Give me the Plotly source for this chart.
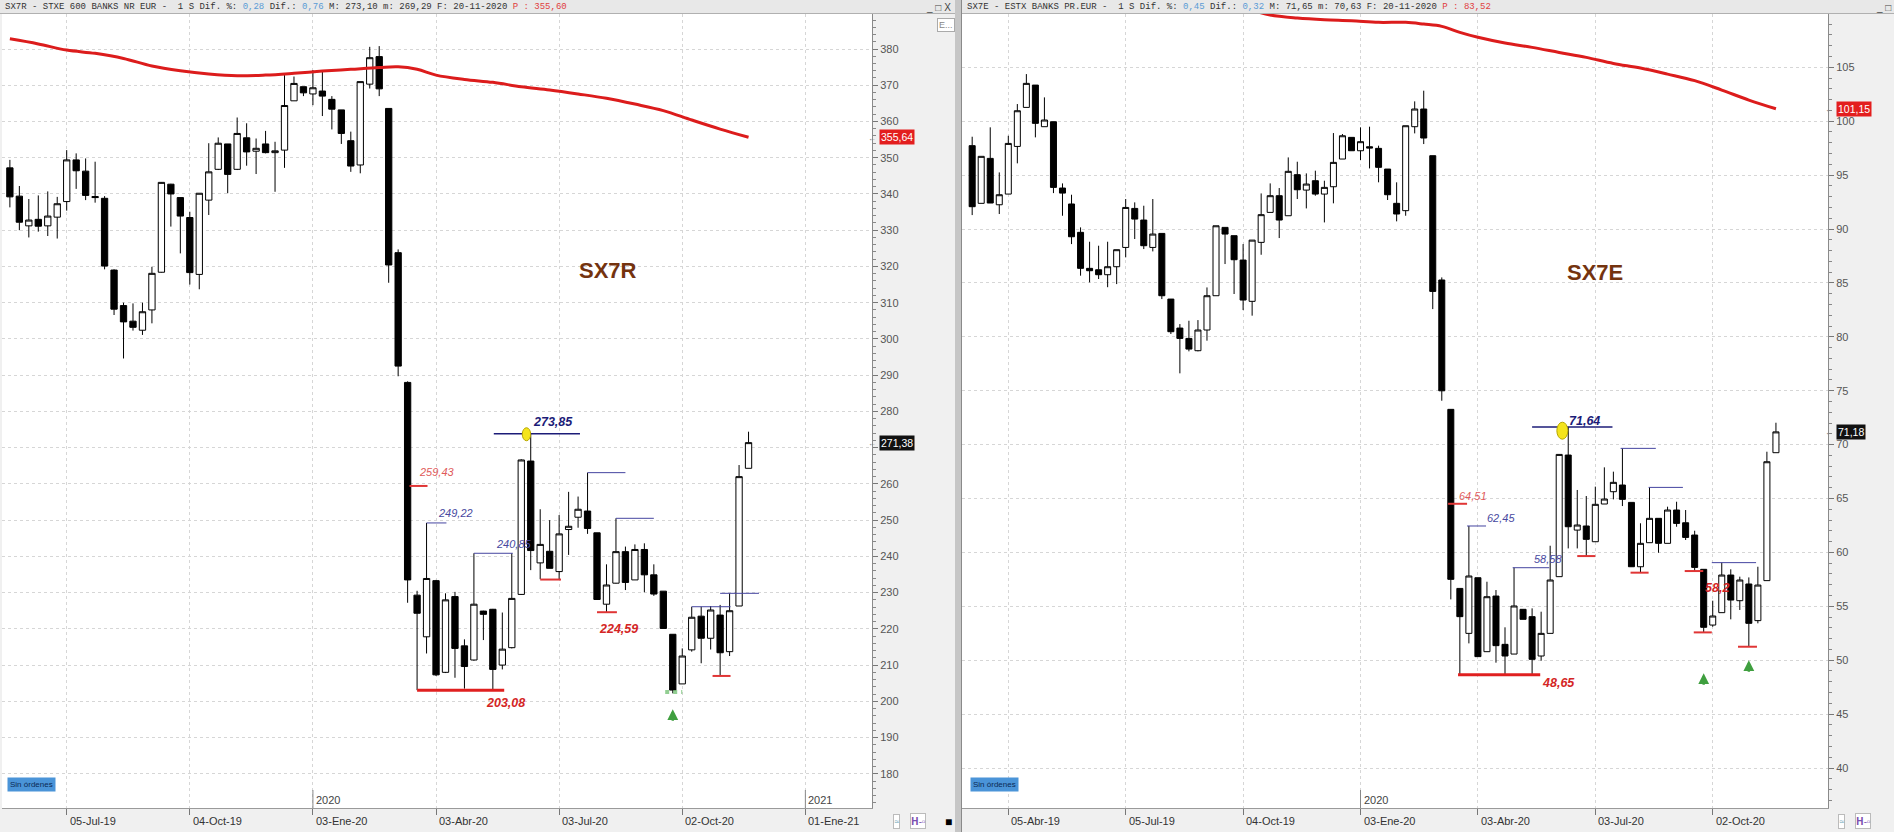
import pandas as pd
import plotly.graph_objects as go

W, H = 1894, 832

# ---------------- SX7R (left panel) weekly candles ----------------
sx7r_dates = pd.date_range("2019-05-24", "2020-11-20", freq="7D")
sx7r_open = [347.2, 339.4, 331.2, 333.0, 331.2, 333.6, 337.9, 349.4, 346.3, 339.3,
             338.8, 319.0, 309.2, 304.9, 302.4, 308.0, 318.4, 342.7, 339.0, 333.5,
             317.8, 338.3, 346.8, 353.8, 346.8, 355.5, 351.8, 353.8, 351.4, 352.1,
             365.7, 369.6, 367.6, 368.4, 366.1, 363.2, 354.7, 348.0, 370.3, 377.9,
             363.6, 323.8, 288.0, 229.3, 217.8, 233.3, 208.0, 228.9, 215.3, 211.4,
             224.9, 225.4, 210.0, 214.8, 229.5, 266.3, 238.2, 241.4, 235.8, 247.4,
             250.8, 252.5, 246.5, 226.8, 232.6, 241.3, 233.5, 241.9, 234.9, 230.4,
             218.5, 204.8, 214.2, 223.5, 217.4, 223.8, 213.7, 226.3, 264.3]
sx7r_high = [349.4, 342.2, 338.6, 339.6, 340.7, 339.2, 352.1, 351.2, 349.8, 348.9,
             339.4, 319.2, 310.0, 309.8, 310.0, 319.9, 343.3, 342.8, 339.0, 335.1,
             340.2, 354.0, 355.6, 353.8, 361.1, 359.5, 355.3, 357.4, 354.4, 372.8,
             372.4, 369.6, 374.2, 373.7, 367.0, 363.2, 357.2, 371.0, 380.6, 380.8,
             363.6, 324.7, 288.3, 230.5, 249.22, 233.5, 229.8, 230.2, 217.1, 240.85,
             225.0, 225.5, 224.5, 240.85, 266.8, 273.85, 253.0, 250.0, 251.4, 257.8,
             256.5, 263.1, 246.5, 237.8, 250.5, 242.7, 243.3, 243.6, 237.8, 230.4,
             218.5, 214.6, 226.1, 226.1, 226.3, 226.6, 229.8, 265.2, 274.4]
sx7r_low = [336.3, 330.0, 328.0, 329.6, 328.4, 327.7, 335.4, 341.4, 338.3, 337.6,
            319.2, 306.6, 294.6, 302.3, 301.1, 304.3, 318.3, 331.0, 323.6, 315.0,
            313.7, 334.2, 346.6, 340.2, 346.6, 347.8, 345.5, 351.2, 340.6, 347.2,
            365.7, 367.0, 364.5, 361.5, 357.8, 353.8, 346.1, 345.7, 369.1, 367.0,
            315.5, 289.7, 227.2, 203.08, 213.2, 207.0, 207.8, 206.5, 203.5, 211.2,
            216.9, 203.08, 208.8, 214.6, 229.4, 236.2, 233.7, 236.7, 233.6, 240.4,
            247.9, 246.2, 228.1, 224.59, 232.5, 230.7, 233.5, 230.1, 229.1, 220.1,
            202.2, 204.8, 213.7, 210.5, 214.3, 207.0, 212.5, 226.3, 264.3]
sx7r_close = [339.2, 332.2, 332.8, 331.1, 333.9, 337.3, 349.4, 346.4, 339.6, 339.0,
              320.1, 308.2, 304.7, 303.2, 307.5, 318.1, 343.2, 340.0, 333.9, 318.3,
              340.2, 346.1, 354.0, 345.4, 356.7, 351.6, 352.6, 351.4, 351.9, 364.4,
              370.5, 367.9, 369.3, 367.0, 363.4, 356.7, 347.7, 371.0, 377.6, 369.0,
              320.4, 292.5, 233.5, 224.3, 233.9, 207.3, 228.0, 214.6, 209.6, 226.8,
              224.0, 208.8, 214.4, 228.4, 266.6, 241.6, 243.3, 236.7, 246.2, 248.3,
              253.0, 247.7, 228.1, 232.1, 241.3, 232.8, 241.9, 234.9, 229.6, 220.1,
              203.1, 212.5, 223.2, 217.4, 225.2, 213.4, 225.0, 262.0, 271.38]
# moving average (red) read at selected weeks (index into sx7r_dates)
sx7r_ma_idx = [0, 3, 6, 9, 12, 15, 18, 21, 24, 27, 30, 33, 36, 39, 41, 43, 45, 48,
               51, 54, 57, 60, 63, 66, 69, 72, 75, 78]
sx7r_ma_val = [382.8, 381.4, 379.7, 378.8, 377.4, 375.3, 374.0, 373.1, 372.6, 372.8,
               373.3, 373.9, 374.4, 374.9, 375.1, 374.4, 372.8, 371.6, 370.8, 369.6,
               368.7, 367.6, 366.4, 364.8, 363.0, 360.4, 357.9, 355.64]

# ---------------- SX7E (right panel) weekly candles ----------------
sx7e_dates = pd.date_range("2019-03-08", "2020-11-20", freq="7D")
sx7e_open = [97.73, 92.38, 96.55, 92.25, 93.24, 97.66, 101.28, 103.35, 99.49, 99.95,
             93.8, 92.32, 89.69, 86.35, 86.22, 85.76, 86.5, 88.29, 91.91, 90.83,
             88.29, 89.59, 83.5, 80.81, 79.85, 78.71, 80.63, 83.81, 90.15, 89.38,
             87.12, 83.29, 88.76, 91.54, 93.09, 91.23, 95.04, 93.61, 94.48, 93.24,
             93.92, 96.49, 98.5, 97.26, 97.63, 97.48, 95.56, 92.38, 91.7, 99.49,
             101.13, 96.8, 85.27, 73.27, 56.66, 52.49, 57.65, 50.79, 55.95, 51.47,
             50.57, 54.72, 54.04, 50.39, 52.49, 57.75, 69.03, 62.07, 62.45, 60.99,
             64.49, 65.63, 66.25, 64.64, 58.67, 60.9, 63.16, 60.84, 63.93, 62.75,
             61.61, 58.43, 53.26, 54.41, 57.9, 55.52, 57.07, 53.67, 57.38, 69.25]
sx7e_high = [98.56, 96.74, 99.43, 95.25, 98.65, 101.59, 104.37, 103.35, 102.21, 99.95,
             94.23, 93.18, 90.15, 88.82, 88.45, 88.82, 88.08, 92.78, 92.47, 92.16,
             92.78, 89.59, 83.5, 81.18, 81.49, 81.55, 84.58, 90.3, 90.15, 89.38,
             88.6, 88.97, 93.3, 94.23, 93.8, 96.64, 96.24, 95.16, 95.41, 94.48,
             98.9, 98.81, 98.5, 99.43, 99.49, 97.73, 95.56, 94.33, 99.58, 101.84,
             102.83, 96.8, 85.51, 73.27, 56.66, 62.45, 57.65, 57.28, 56.51, 53.05,
             58.58, 54.72, 54.81, 54.5, 60.62, 69.09, 71.64, 65.79, 65.23, 66.1,
             67.89, 67.49, 69.65, 64.64, 62.7, 66.03, 63.16, 64.24, 64.7, 63.93,
             62.01, 58.43, 55.52, 59.05, 58.43, 57.75, 57.68, 58.67, 69.34, 72.03]
sx7e_low = [91.29, 92.38, 92.41, 91.39, 93.24, 96.09, 101.28, 98.5, 99.49, 93.33,
            91.23, 88.6, 85.67, 85.05, 85.36, 84.6, 84.89, 87.37, 89.07, 88.14,
            87.92, 83.5, 80.26, 76.61, 78.65, 78.65, 79.64, 83.81, 86.75, 83.97,
            82.48, 81.96, 87.61, 91.54, 89.16, 91.23, 92.78, 91.91, 93.09, 90.61,
            92.38, 96.49, 97.26, 96.4, 95.62, 94.33, 92.69, 90.71, 91.23, 98.87,
            97.88, 82.57, 74.07, 55.64, 48.65, 51.56, 50.33, 50.79, 49.77, 48.7,
            50.57, 53.79, 48.65, 49.95, 52.49, 57.75, 60.37, 60.37, 59.66, 60.99,
            64.49, 64.92, 64.3, 58.67, 58.12, 60.9, 59.97, 60.84, 62.38, 61.15,
            58.27, 52.58, 53.1, 54.41, 53.79, 54.66, 51.25, 53.42, 57.38, 69.25]
sx7e_close = [92.07, 96.74, 92.41, 93.18, 97.94, 100.97, 103.51, 99.8, 100.11, 93.86,
              93.33, 89.28, 86.35, 86.13, 85.76, 86.5, 88.08, 92.0, 90.92, 88.45,
              89.53, 83.81, 80.47, 79.85, 78.86, 80.63, 83.81, 90.3, 89.53, 87.15,
              83.41, 88.97, 91.33, 93.09, 90.83, 95.35, 93.64, 94.17, 93.24, 93.86,
              96.18, 98.65, 97.26, 98.1, 97.51, 95.72, 93.18, 91.39, 99.58, 101.13,
              98.44, 84.21, 74.99, 57.5, 54.04, 57.81, 50.33, 55.89, 51.35, 50.39,
              55.03, 53.79, 50.08, 52.49, 57.44, 69.09, 62.38, 62.54, 61.21, 64.46,
              64.95, 66.5, 64.92, 58.67, 60.84, 63.16, 60.84, 63.93, 62.69, 61.39,
              58.61, 53.05, 54.1, 57.9, 55.58, 57.44, 53.42, 56.97, 68.41, 71.18]
sx7e_ma_idx = [31, 33, 36, 39, 42, 45, 48, 50, 52, 54, 56, 59, 62, 65, 68, 71, 74,
               77, 80, 83, 86, 89]
sx7e_ma_val = [110.3, 109.85, 109.57, 109.41, 109.32, 109.17, 109.17, 109.01, 108.8,
               108.24, 107.78, 107.25, 106.85, 106.38, 105.92, 105.36, 104.93, 104.37,
               103.76, 102.89, 101.96, 101.15]

# axis tick dates / labels
sx7r_tickvals = ["2019-07-05", "2019-10-04", "2020-01-03", "2020-04-03", "2020-07-03",
                 "2020-10-02", "2021-01-01"]
sx7r_ticktext = ["05-Jul-19", "04-Oct-19", "03-Ene-20", "03-Abr-20", "03-Jul-20",
                 "02-Oct-20", "01-Ene-21"]
sx7e_tickvals = ["2019-04-05", "2019-07-05", "2019-10-04", "2020-01-03", "2020-04-03",
                 "2020-07-03", "2020-10-02"]
sx7e_ticktext = ["05-Abr-19", "05-Jul-19", "04-Oct-19", "03-Ene-20", "03-Abr-20",
                 "03-Jul-20", "02-Oct-20"]
# price axis ticks (the 270 label is hidden behind the last-price tag in the reference)
sx7r_yticks = list(range(180, 391, 10))
sx7r_ylabels = ["" if v == 270 else str(v) for v in sx7r_yticks]
sx7e_yticks = list(range(40, 111, 5))
sx7e_ylabels = [str(v) for v in sx7e_yticks]

# drawn level lines: (start week idx, end week idx, level, kind)
sx7r_levels = [(42.2, 44.1, 259.43, "r"), (44.0, 46.1, 249.22, "b"), (49.0, 53.1, 240.85, "b"),
               (43.0, 52.2, 203.08, "R"), (51.1, 60.2, 273.85, "B"), (56.0, 58.2, 233.6, "r"),
               (61.0, 65.0, 263.1, "b"), (62.0, 64.1, 224.59, "r"), (64.0, 68.0, 250.5, "b"),
               (74.2, 76.1, 207.0, "r"), (72.0, 76.1, 226.1, "b"), (75.0, 79.1, 229.8, "b"),
               (69.2, 71.0, 202.6, "g")]
sx7e_levels = [(52.7, 54.8, 64.51, "r"), (54.8, 56.9, 62.45, "b"), (59.85, 63.9, 58.58, "b"),
               (53.8, 62.9, 48.65, "R"), (62.0, 70.9, 71.64, "B"), (67.0, 69.0, 59.66, "r"),
               (71.8, 75.7, 69.65, "b"), (72.9, 74.9, 58.12, "r"), (74.9, 78.7, 66.03, "b"),
               (78.9, 80.95, 58.27, "r"), (79.9, 81.9, 52.58, "r"), (81.9, 86.8, 59.05, "b"),
               (84.8, 86.9, 51.25, "r")]
# labels: (week idx for left edge, y value, text, style)
sx7r_labels = [(43.0, 263.4, "259,43", "rl"), (45.0, 252.0, "249,22", "bl"),
               (51.1, 243.4, "240,85", "bl"), (50.1, 199.5, "203,08", "rb"),
               (55.0, 277.0, "273,85", "bb"), (62.0, 219.9, "224,59", "rb")]
sx7e_labels = [(53.65, 65.26, "64,51", "rl"), (56.75, 63.16, "62,45", "bl"),
               (62.0, 59.39, "58,58", "bl"), (62.9, 47.91, "48,65", "rb"),
               (65.9, 72.19, "71,64", "bb"), (80.9, 56.7, "58,2", "rb")]

# ---------------- pixel layout helpers ----------------
def px(x):
    return x / W

def py(y):
    return 1 - y / H

def wk(dates, k):
    return (dates[0] + pd.Timedelta(days=7 * k)).strftime("%Y-%m-%d %H:%M:%S")

L_X0, L_X1 = 2, 872
R_X0, R_X1 = 962, 1828
P_TOP, P_BOT = 14, 808

left_range = [pd.Timestamp("2019-07-05") + pd.Timedelta(days=(p - 66.7) / 9.47 * 7) for p in (L_X0, L_X1)]
right_range = [pd.Timestamp("2019-04-05") + pd.Timedelta(days=(p - 1008.3) / 9.031 * 7) for p in (R_X0, R_X1)]
left_yr = [380 - (P_BOT - 49) / 3.624, 380 - (P_TOP - 49) / 3.624]
right_yr = [105 - (P_BOT - 67.3) / 10.78, 105 - (P_TOP - 67.3) / 10.78]

fig = go.Figure()

candle_style = dict(
    increasing=dict(line=dict(color="black", width=1), fillcolor="white"),
    decreasing=dict(line=dict(color="black", width=1), fillcolor="black"),
    whiskerwidth=0, showlegend=False, hoverinfo="skip",
)
fig.add_trace(go.Candlestick(x=sx7r_dates, open=sx7r_open, high=sx7r_high, low=sx7r_low,
                             close=sx7r_close, xaxis="x", yaxis="y", **candle_style))
fig.add_trace(go.Candlestick(x=sx7e_dates, open=sx7e_open, high=sx7e_high, low=sx7e_low,
                             close=sx7e_close, xaxis="x2", yaxis="y2", **candle_style))
fig.add_trace(go.Scatter(x=[sx7r_dates[i] for i in sx7r_ma_idx], y=sx7r_ma_val, mode="lines",
                         line=dict(color="#dc1c1c", width=3, shape="spline"),
                         xaxis="x", yaxis="y", showlegend=False, hoverinfo="skip"))
fig.add_trace(go.Scatter(x=[sx7e_dates[i] for i in sx7e_ma_idx], y=sx7e_ma_val, mode="lines",
                         line=dict(color="#dc1c1c", width=3, shape="spline"),
                         xaxis="x2", yaxis="y2", showlegend=False, hoverinfo="skip"))

shapes = []
annotations = []

# separator / header bars
shapes.append(dict(type="rect", xref="paper", yref="paper", x0=px(955), x1=px(962), y0=0, y1=1,
                   fillcolor="#c6c6c6", line=dict(width=0), layer="below"))
shapes.append(dict(type="line", xref="paper", yref="paper", x0=px(961.5), x1=px(961.5), y0=0, y1=1,
                   line=dict(color="#8a8a8a", width=1)))
for (a, b) in [(0, 955), (962, 1894)]:
    shapes.append(dict(type="rect", xref="paper", yref="paper", x0=px(a), x1=px(b), y0=py(13), y1=1,
                       fillcolor="#e8e8e8", line=dict(width=0)))
    shapes.append(dict(type="line", xref="paper", yref="paper", x0=px(a), x1=px(b), y0=py(13.5), y1=py(13.5),
                       line=dict(color="#b0b0b0", width=1)))

hdr_font = dict(family="Liberation Mono, Courier New, monospace", size=9, color="#333")
annotations.append(dict(xref="paper", yref="paper", x=px(3), y=py(7), xanchor="left", yanchor="middle",
                        showarrow=False, font=hdr_font,
                        text="SX7R - STXE 600 BANKS NR EUR -  1 S Dif. %: <span style='color:#5b9bd5'>0,28</span> "
                             "Dif.: <span style='color:#5b9bd5'>0,76</span> M: 273,10 m: 269,29 F: 20-11-2020 "
                             "<span style='color:#e04040'>P : 355,60</span>"))
annotations.append(dict(xref="paper", yref="paper", x=px(965), y=py(7), xanchor="left", yanchor="middle",
                        showarrow=False, font=hdr_font,
                        text="SX7E - ESTX BANKS PR.EUR -  1 S Dif. %: <span style='color:#5b9bd5'>0,45</span> "
                             "Dif.: <span style='color:#5b9bd5'>0,32</span> M: 71,65 m: 70,63 F: 20-11-2020 "
                             "<span style='color:#e04040'>P : 83,52</span>"))
annotations.append(dict(xref="paper", yref="paper", x=px(953), y=py(7), xanchor="right", yanchor="middle",
                        showarrow=False, font=dict(family="Liberation Sans", size=10, color="#444"), text="_ □ X"))
annotations.append(dict(xref="paper", yref="paper", x=px(1893), y=py(7), xanchor="right", yanchor="middle",
                        showarrow=False, font=dict(family="Liberation Sans", size=10, color="#444"), text="_ □"))
annotations.append(dict(xref="paper", yref="paper", x=px(937), y=py(25), xanchor="left", yanchor="middle",
                        showarrow=False, font=dict(family="Liberation Sans", size=9, color="#888"), text="E...",
                        bordercolor="#aaa", borderwidth=1, bgcolor="white", borderpad=1))

# "Sin órdenes" buttons
for x0 in (7, 970):
    annotations.append(dict(xref="paper", yref="paper", x=px(x0), y=py(784), xanchor="left", yanchor="middle",
                            showarrow=False, text="Sin órdenes", bgcolor="#4a94d8", borderpad=2,
                            font=dict(family="Liberation Sans", size=8, color="#0b2a55")))

# date labels (left-aligned right of their tick, as in the reference)
for xa, vals, texts in [("x", sx7r_tickvals, sx7r_ticktext), ("x2", sx7e_tickvals, sx7e_ticktext)]:
    for v, t in zip(vals, texts):
        annotations.append(dict(xref=xa, yref="paper", x=v, y=py(821), xanchor="left", yanchor="middle",
                                xshift=1, showarrow=False, text=t,
                                font=dict(family="Liberation Sans, Arial", size=11, color="#333")))

# year markers
for xa, d, txt in [("x", "2020-01-03", "2020"), ("x", "2021-01-01", "2021"), ("x2", "2020-01-03", "2020")]:
    shapes.append(dict(type="line", xref=xa, yref="paper", x0=d, x1=d, y0=py(808), y1=py(790),
                       line=dict(color="#888", width=1)))
    annotations.append(dict(xref=xa, yref="paper", x=d, y=py(800), xanchor="left", yanchor="middle",
                            xshift=1, showarrow=False, text=txt,
                            font=dict(family="Liberation Sans", size=11, color="#444")))

# level lines and labels
col = {"r": "#e03535", "R": "#e02020", "b": "#4545a0", "B": "#1c1c78", "g": "rgba(110,190,110,0.75)"}
wid = {"r": 2, "R": 3, "b": 1, "B": 1.5, "g": 4}
for dates, xa, ya, levels in [(sx7r_dates, "x", "y", sx7r_levels), (sx7e_dates, "x2", "y2", sx7e_levels)]:
    for k0, k1, lvl, kind in levels:
        shapes.append(dict(type="line", xref=xa, yref=ya, x0=wk(dates, k0), x1=wk(dates, k1), y0=lvl, y1=lvl,
                           line=dict(color=col[kind], width=wid[kind], dash="dot" if kind == "g" else "solid")))

lab_style = {"rl": ("#e05a5a", "<i>{}</i>", 11), "bl": ("#4848a0", "<i>{}</i>", 11),
             "rb": ("#d42525", "<b><i>{}</i></b>", 12.5), "bb": ("#1c1c78", "<b><i>{}</i></b>", 12.5)}
for dates, xa, ya, labels in [(sx7r_dates, "x", "y", sx7r_labels), (sx7e_dates, "x2", "y2", sx7e_labels)]:
    for k, v, txt, st in labels:
        c, fmt, sz = lab_style[st]
        annotations.append(dict(xref=xa, yref=ya, x=wk(dates, k), y=v, xanchor="left", yanchor="middle",
                                showarrow=False, text=fmt.format(txt),
                                font=dict(family="Liberation Sans, Arial", size=sz, color=c)))

# index names
annotations.append(dict(xref="x", yref="y", x=wk(sx7r_dates, 63.2), y=318.9, showarrow=False,
                        text="<b>SX7R</b>", font=dict(family="Liberation Sans, Arial", size=22, color="#74330f")))
annotations.append(dict(xref="x2", yref="y2", x=wk(sx7e_dates, 69.0), y=86.0, showarrow=False,
                        text="<b>SX7E</b>", font=dict(family="Liberation Sans, Arial", size=22, color="#74330f")))

# yellow ellipses on the highs
for dates, xa, ya, k, v, rx, ry in [(sx7r_dates, "x", "y", 54.55, 273.7, 4.2, 6.5),
                                     (sx7e_dates, "x2", "y2", 65.35, 71.29, 5.5, 8.5)]:
    shapes.append(dict(type="circle", xref=xa, yref=ya, xsizemode="pixel", ysizemode="pixel",
                       xanchor=wk(dates, k), yanchor=v, x0=-rx, x1=rx, y0=-ry, y1=ry,
                       fillcolor="#f4e41c", line=dict(color="#b8a800", width=1)))

# green arrows
for dates, xa, ya, k, v in [(sx7r_dates, "x", "y", 70, 197.8), (sx7e_dates, "x2", "y2", 81, 48.8),
                            (sx7e_dates, "x2", "y2", 86, 50.0)]:
    annotations.append(dict(xref=xa, yref=ya, x=wk(dates, k), y=v, ax=0, ay=13, text="", showarrow=True,
                            arrowhead=2, arrowsize=0.9, arrowwidth=2.4, arrowcolor="#3f9f3f"))

# price tags on the axes
for ya, xpos, v, txt, bg in [("y", 879, 355.64, "355,64", "#e31e1e"), ("y", 879, 271.38, "271,38", "#111"),
                             ("y2", 1836, 101.15, "101,15", "#e31e1e"), ("y2", 1836, 71.18, "71,18", "#111")]:
    annotations.append(dict(xref="paper", yref=ya, x=px(xpos), y=v, xanchor="left", yanchor="middle",
                            showarrow=False, text=txt, bgcolor=bg, borderpad=1,
                            font=dict(family="Liberation Sans, Arial", size=10.5, color="white")))
    annotations.append(dict(xref="paper", yref=ya, x=px(xpos - 1), y=v, xanchor="right", yanchor="middle",
                            showarrow=False, text="←", font=dict(size=8, color="#777")))

# small toolbar icons bottom-right of each panel
for base in (893, 1838):
    annotations.append(dict(xref="paper", yref="paper", x=px(base), y=py(821), xanchor="left", yanchor="middle",
                            showarrow=False, text="≈", bgcolor="white", bordercolor="#bbb", borderwidth=1,
                            borderpad=0, font=dict(size=9, color="#7ab")))
    annotations.append(dict(xref="paper", yref="paper", x=px(base + 17), y=py(821), xanchor="left",
                            yanchor="middle", showarrow=False, text="<b>H</b>-▫", bgcolor="white",
                            bordercolor="#bbb", borderwidth=1, borderpad=0,
                            font=dict(size=10, color="#7a4fb0")))
annotations.append(dict(xref="paper", yref="paper", x=px(943), y=py(821), xanchor="left", yanchor="middle",
                        showarrow=False, text="■", font=dict(size=12, color="black")))

grid = dict(showgrid=True, gridcolor="#d6d6d6", griddash="3px,3px", gridwidth=1, zeroline=False)
xcommon = dict(type="date", tickmode="array", ticks="outside", ticklen=6, tickcolor="#777",
               showticklabels=False, showline=True, linecolor="#9a9a9a", rangeslider=dict(visible=False),
               fixedrange=True, **grid)
ycommon = dict(side="right", tickmode="array", ticks="outside", ticklen=5, tickcolor="#777",
               tickfont=dict(family="Liberation Sans, Arial", size=11, color="#555"),
               showline=True, linecolor="#8a8a8a", fixedrange=True, **grid)

fig.update_layout(
    width=W, height=H, autosize=False,
    margin=dict(l=0, r=0, t=0, b=0, pad=0),
    paper_bgcolor="#f0f0f0", plot_bgcolor="white",
    boxgap=0.3, boxgroupgap=0.05,
    xaxis=dict(domain=[px(L_X0), px(L_X1)], range=left_range, anchor="y",
               tickvals=sx7r_tickvals, ticktext=sx7r_ticktext, **xcommon),
    yaxis=dict(domain=[py(P_BOT), py(P_TOP)], range=left_yr, anchor="x",
               tickvals=sx7r_yticks, ticktext=sx7r_ylabels,
               minor=dict(dtick=2, tick0=0, ticks="outside", ticklen=3, tickcolor="#888", showgrid=False),
               **ycommon),
    xaxis2=dict(domain=[px(R_X0), px(R_X1)], range=right_range, anchor="y2",
                tickvals=sx7e_tickvals, ticktext=sx7e_ticktext, **xcommon),
    yaxis2=dict(domain=[py(P_BOT), py(P_TOP)], range=right_yr, anchor="x2",
                tickvals=sx7e_yticks, ticktext=sx7e_ylabels,
                minor=dict(dtick=1, tick0=0, ticks="outside", ticklen=3, tickcolor="#888", showgrid=False),
                **ycommon),
    shapes=shapes, annotations=annotations, showlegend=False, hovermode=False,
)

fig.write_html("out.html", config={"displayModeBar": False},
               post_script="document.body.style.margin='0';document.body.style.padding='0';")
